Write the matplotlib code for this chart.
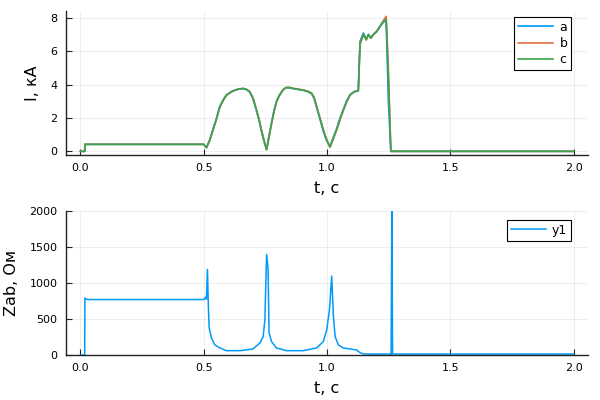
import matplotlib.pyplot as plt

# currents, kA
t_I = [0.0, 0.017, 0.018, 0.5, 0.511, 0.524, 0.537, 0.552, 0.565, 0.579,
       0.592, 0.606, 0.619, 0.640, 0.66, 0.673, 0.687, 0.70, 0.714, 0.725,
       0.734, 0.744, 0.755, 0.765, 0.775, 0.785, 0.795, 0.805, 0.816, 0.826,
       0.836, 0.85, 0.863, 0.884, 0.904, 0.922, 0.938, 0.948, 0.958, 0.972,
       0.985, 0.998, 1.012, 1.026, 1.04, 1.053, 1.066, 1.08, 1.093, 1.11,
       1.127, 1.134, 1.148, 1.159, 1.168, 1.178, 1.188, 1.202, 1.215, 1.229,
       1.24, 1.249, 1.259, 1.3, 2.0]
I_a = [0, 0, 0.42, 0.42, 0.22, 0.68, 1.3, 2.0, 2.7, 3.1,
       3.39, 3.52, 3.64, 3.73, 3.76, 3.71, 3.55, 3.14, 2.43, 1.82,
       1.22, 0.62, 0.12, 0.95, 1.72, 2.44, 3.0, 3.33, 3.58, 3.75,
       3.82, 3.81, 3.76, 3.71, 3.66, 3.58, 3.45, 3.16, 2.62, 1.9,
       1.2, 0.66, 0.28, 0.85, 1.4, 2.0, 2.5, 3.03, 3.38, 3.58,
       3.62, 6.6, 7.1, 6.72, 7.02, 6.82, 7.0, 7.18, 7.48, 7.75,
       7.85, 3.0, 0, 0, 0]
I_b = [0, 0, 0.42, 0.42, 0.22, 0.64, 1.24, 1.95, 2.64, 3.05,
       3.36, 3.5, 3.62, 3.73, 3.78, 3.73, 3.58, 3.2, 2.5, 1.9,
       1.3, 0.7, 0.1, 0.86, 1.65, 2.37, 2.95, 3.28, 3.56, 3.75,
       3.84, 3.83, 3.78, 3.73, 3.68, 3.61, 3.49, 3.23, 2.7, 1.99,
       1.3, 0.74, 0.25, 0.76, 1.3, 1.9, 2.44, 2.97, 3.36, 3.57,
       3.66, 6.4, 7.0, 6.68, 6.98, 6.78, 7.02, 7.22, 7.52, 7.85,
       8.1, 5.0, 0, 0, 0]
I_c = [0, 0, 0.42, 0.42, 0.22, 0.66, 1.26, 1.97, 2.67, 3.07,
       3.37, 3.51, 3.63, 3.73, 3.77, 3.72, 3.57, 3.17, 2.47, 1.87,
       1.26, 0.66, 0.1, 0.9, 1.68, 2.4, 2.97, 3.3, 3.57, 3.75,
       3.83, 3.82, 3.77, 3.72, 3.67, 3.6, 3.47, 3.2, 2.67, 1.95,
       1.26, 0.7, 0.26, 0.8, 1.35, 1.95, 2.47, 3.0, 3.37, 3.58,
       3.65, 6.5, 7.05, 6.7, 7.0, 6.8, 7.0, 7.2, 7.5, 7.8,
       7.9, 4.4, 0, 0, 0]

# impedance, Ohm
t_Z = [0.0, 0.017, 0.018, 0.021, 0.03, 0.5, 0.504, 0.507, 0.511, 0.515,
       0.519, 0.522, 0.531, 0.545, 0.565, 0.592, 0.646, 0.70, 0.728, 0.741,
       0.748, 0.755, 0.761, 0.765, 0.775, 0.795, 0.836, 0.904, 0.958, 0.985,
       0.999, 1.01, 1.019, 1.026, 1.033, 1.046, 1.066, 1.093, 1.12, 1.134,
       1.148, 1.255, 1.26, 1.263, 1.266, 2.0]
Z = [0, 0, 790, 780, 770, 770, 790, 800, 775, 1189,
     650, 378, 238, 140, 98, 60, 60, 84, 168, 256,
     490, 1399, 1190, 307, 186, 98, 60, 60, 98, 186,
     350, 630, 1096, 536, 256, 140, 98, 84, 70, 33,
     14, 14, 0, 2000, 14, 14]

x_ticks = [0.0, 0.5, 1.0, 1.5, 2.0]
x_labels = ["0.0", "0.5", "1.0", "1.5", "2.0"]

fig = plt.figure(figsize=(6, 4), dpi=100)
ax1 = fig.add_axes([0.1095, 0.6125, 0.871, 0.36])
ax2 = fig.add_axes([0.1095, 0.1125, 0.871, 0.36])


def style(ax):
    for s in ["top", "right"]:
        ax.spines[s].set_visible(False)
    for s in ["left", "bottom"]:
        ax.spines[s].set_color("#222222")
        ax.spines[s].set_linewidth(1.0)
    ax.grid(True, color="black", alpha=0.08, linewidth=0.6)
    ax.set_axisbelow(True)
    ax.tick_params(direction="in", length=4, width=0.8, labelsize=8, pad=6,
                   colors="#222222", labelcolor="black")
    ax.set_xlim(-0.06, 2.06)
    ax.set_xticks(x_ticks)
    ax.set_xticklabels(x_labels)
    ax.set_xlabel("t, с", fontsize=11.5)
    ax.xaxis.set_label_coords(0.5, -0.18)


leg_kw = dict(loc="upper right", fontsize=9, fancybox=False, edgecolor="black",
              framealpha=1, handlelength=2.8, borderpad=0.3, labelspacing=0.25,
              handletextpad=0.5, borderaxespad=0)

ax1.plot(t_I, I_a, color="#009AFA", lw=1.2, label="a")
ax1.plot(t_I, I_b, color="#E26F46", lw=1.2, label="b")
ax1.plot(t_I, I_c, color="#3DA44D", lw=1.2, label="c")
style(ax1)
ax1.set_ylim(-0.22, 8.42)
ax1.set_yticks([0, 2, 4, 6, 8])
ax1.set_ylabel("I, кА", fontsize=11.5)
ax1.yaxis.set_label_coords(-0.049, 0.5)
leg1 = ax1.legend(bbox_to_anchor=(0.967, 0.958), **leg_kw)
leg1.get_frame().set_linewidth(0.8)

ax2.plot(t_Z, Z, color="#009AFA", lw=1.1, label="y1")
style(ax2)
ax2.set_ylim(0, 2000)
ax2.set_yticks([0, 500, 1000, 1500, 2000])
ax2.set_ylabel("Zab, Ом", fontsize=11.5)
ax2.yaxis.set_label_coords(-0.089, 0.5)
leg2 = ax2.legend(bbox_to_anchor=(0.967, 0.9375), **leg_kw)
leg2.get_frame().set_linewidth(0.8)

fig.savefig("out.png", dpi=100)
